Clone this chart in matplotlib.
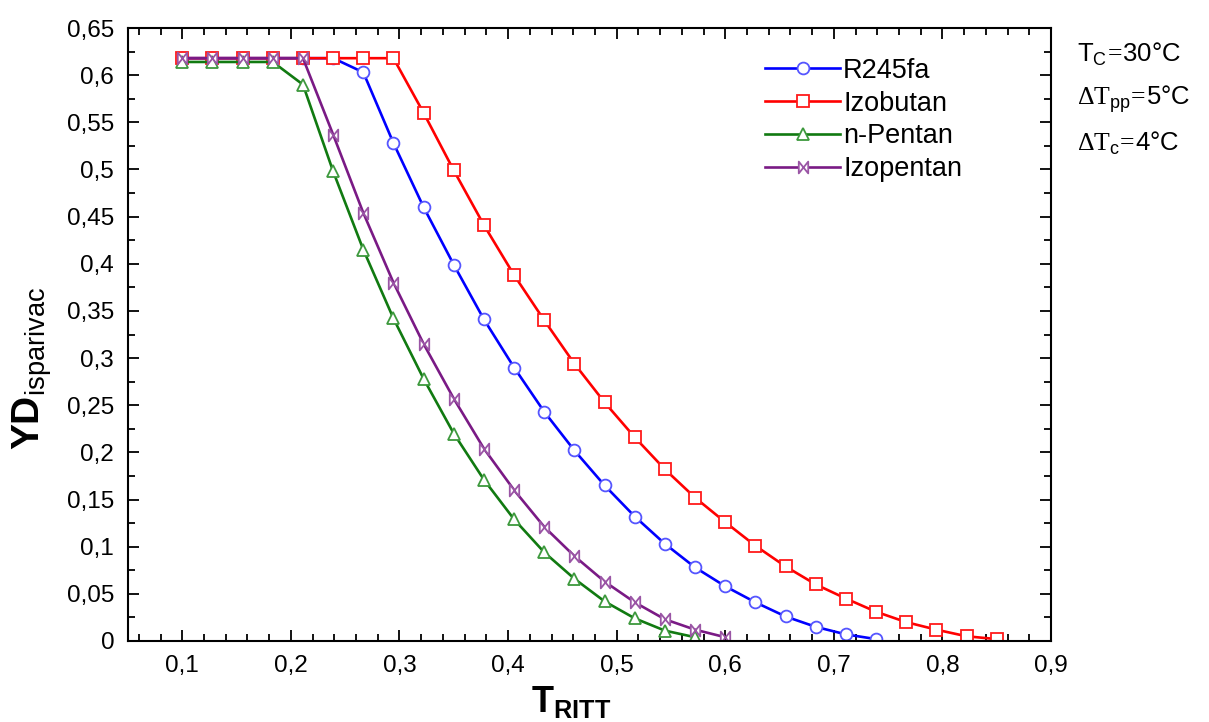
import numpy as np
import matplotlib
matplotlib.use("Agg")
import matplotlib.pyplot as plt
from matplotlib.path import Path
from matplotlib.ticker import MultipleLocator, FuncFormatter

plt.rcParams['font.family'] = ['Liberation Sans', 'DejaVu Sans']
plt.rcParams['mathtext.fontset'] = 'custom'
plt.rcParams['mathtext.rm'] = 'Liberation Serif'
plt.rcParams['mathtext.sf'] = 'Liberation Sans'
plt.rcParams['mathtext.bf'] = 'Liberation Sans:bold'
plt.rcParams['mathtext.it'] = 'Liberation Sans:italic'

# T_RITT grid step (x values)
x_step = 0.75 / 27

r245fa = [0.618, 0.618, 0.618, 0.618, 0.618, 0.618, 0.603, 0.528, 0.460, 0.399,
          0.341, 0.290, 0.243, 0.202, 0.165, 0.132, 0.103, 0.078, 0.058, 0.041,
          0.026, 0.015, 0.007, 0.002]
izobutan = [0.618, 0.618, 0.618, 0.618, 0.618, 0.618, 0.618, 0.618, 0.560, 0.499,
            0.441, 0.388, 0.340, 0.294, 0.253, 0.216, 0.182, 0.152, 0.126, 0.101,
            0.079, 0.060, 0.045, 0.031, 0.020, 0.012, 0.005, 0.002]
npentan = [0.614, 0.614, 0.614, 0.614, 0.590, 0.498, 0.415, 0.342, 0.278, 0.220,
           0.171, 0.129, 0.094, 0.066, 0.042, 0.024, 0.011, 0.004]
izopentan = [0.618, 0.618, 0.618, 0.618, 0.618, 0.537, 0.454, 0.380, 0.315, 0.257,
             0.204, 0.160, 0.121, 0.090, 0.063, 0.041, 0.023, 0.012, 0.004]

labels = ['R245fa', 'Izobutan', 'n-Pentan', 'Izopentan']

def xs(vals):
    return 0.1 + x_step * np.arange(len(vals))

bowtie = Path([(-0.8, 1), (0.8, -1), (0.8, 1), (-0.8, -1), (-0.8, 1)],
              [Path.MOVETO, Path.LINETO, Path.LINETO, Path.LINETO, Path.CLOSEPOLY])

fig = plt.figure(figsize=(12.09, 7.22), dpi=100)
ax = fig.add_axes([0.1059, 0.1122, 0.7634, 0.849])

series = [
    (r245fa, '#0000ff', 'o', '#5555ff', 8.5),
    (izobutan, '#ff0000', 's', '#ff1a1a', 9),
    (npentan, '#117a11', '^', '#3d993d', 8),
    (izopentan, '#7a1a85', bowtie, '#9a55a5', 8.5),
]
for (vals, col, mk, mec, ms), lab in zip(series, labels):
    ax.plot(xs(vals), vals, color=col, lw=1.9, marker=mk, ms=ms,
            mfc='white', mec=mec, mew=1.3, label=lab)

ax.set_xlim(0.05, 0.9)
ax.set_ylim(0, 0.65)
ax.xaxis.set_major_locator(MultipleLocator(0.1))
ax.xaxis.set_minor_locator(MultipleLocator(0.02))
ax.yaxis.set_major_locator(MultipleLocator(0.05))
ax.yaxis.set_minor_locator(MultipleLocator(0.025))

def comma(v, pos):
    s = ('%.2f' % v).rstrip('0').rstrip('.')
    return s.replace('.', ',')

ax.xaxis.set_major_formatter(FuncFormatter(comma))
ax.yaxis.set_major_formatter(FuncFormatter(comma))
ax.tick_params(which='both', direction='in', top=True, right=True, width=1.3)
ax.tick_params(which='major', length=8, labelsize=17.5)
ax.tick_params(axis='y', which='major', pad=10)
ax.tick_params(axis='x', which='major', pad=10)
ax.tick_params(which='minor', length=5)
for sp in ax.spines.values():
    sp.set_linewidth(1.5)

ax.set_xlabel(r'$\mathbf{T}_{\mathbf{RITT}}$', fontsize=26)
ax.xaxis.set_label_coords(0.48, -0.07)
ax.set_ylabel(r'$\mathbf{YD}_{\mathsf{isparivac}}$', fontsize=28)
ax.yaxis.set_label_coords(-0.08, 0.444)

ax.legend(loc='upper left', bbox_to_anchor=(0.633, 0.92), bbox_transform=fig.transFigure,
          frameon=False, fontsize=19.5, handlelength=2.75, handletextpad=0.12,
          labelspacing=0.25, borderpad=0, borderaxespad=0)

fig.text(0.891, 0.925, r'$\mathsf{T_C}\!=\!\mathsf{30°C}$', fontsize=18.5, va='center')
fig.text(0.891, 0.863, r'$\Delta\mathrm{T}_{\mathsf{pp}}\!=\!\mathsf{5°C}$', fontsize=18.5, va='center')
fig.text(0.891, 0.801, r'$\Delta\mathrm{T}_{\mathsf{c}}\!=\!\mathsf{4°C}$', fontsize=18.5, va='center')

fig.savefig('out.png', dpi=100)
